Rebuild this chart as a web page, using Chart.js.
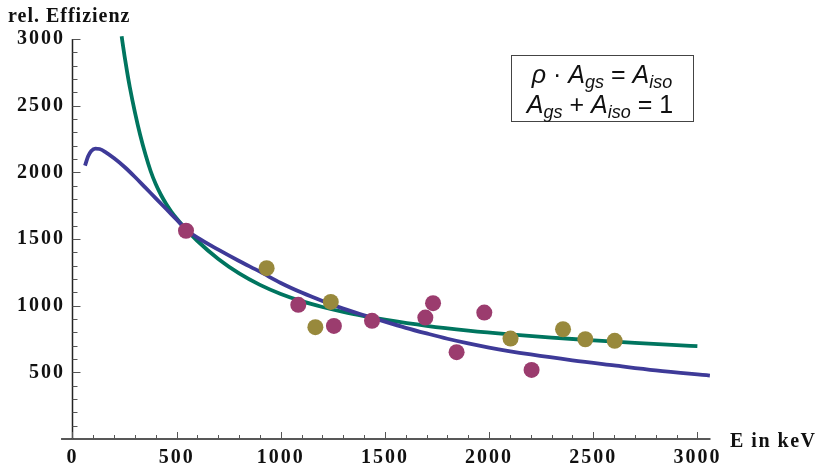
<!DOCTYPE html>
<html>
<head>
<meta charset="utf-8">
<script src="https://cdn.jsdelivr.net/npm/chart.js@4.4.1/dist/chart.umd.min.js"></script>
<style>
  html, body { margin: 0; padding: 0; background: #fff; }
  canvas { display: block; }
</style>
</head>
<body>
<canvas id="chart" width="825" height="467"></canvas>
<script>
/* Relative efficiency vs. energy: two fit curves and two sets of measured points. */

// fit curve, purple-blue
var blueE = [60, 75, 90, 110, 130, 160, 200, 250, 300, 350, 400, 450, 500, 550, 600, 700, 800, 900,
             1000, 1100, 1200, 1300, 1400, 1500, 1600, 1700, 1800, 1900, 2000, 2200, 2400, 2600, 2800, 3060];
var blueY = [2050, 2120, 2160, 2178, 2175, 2150, 2105, 2040, 1965, 1885, 1805, 1725, 1645, 1565, 1510, 1420, 1335, 1255,
             1170, 1098, 1035, 978, 928, 880, 834, 792, 752, 717, 686, 634, 590, 552, 515, 476];

// fit curve, green
var greenE = [236, 240, 250, 262, 275, 300, 325, 350, 375, 400, 425, 450, 475, 500, 525, 550, 600, 700, 800, 900,
              1000, 1100, 1200, 1300, 1400, 1500, 1700, 1900, 2100, 2300, 2500, 2700, 2900, 3000];
var greenY = [3020, 2975, 2870, 2755, 2640, 2448, 2280, 2135, 2010, 1910, 1830, 1762, 1704, 1654, 1608, 1565, 1485,
              1350, 1242, 1156, 1088, 1034, 990, 953, 922, 895, 849, 813, 784, 760, 740, 721, 704, 696];

// measured points
var magentaE = [545, 1084, 1255, 1438, 1694, 1731, 1844, 1977, 2204];
var magentaY = [1562, 1006, 848, 886, 911, 1019, 651, 948, 518];
var oliveE = [932, 1166, 1240, 2103, 2355, 2462, 2603];
var oliveY = [1281, 839, 1028, 753, 823, 748, 736];

var xTicks = [0, 500, 1000, 1500, 2000, 2500, 3000];
var yTicks = [500, 1000, 1500, 2000, 2500, 3000];
var MINOR_STEP = 100;
var X_AXIS_FROM = -55, X_AXIS_TO = 3063;

var COLORS = {
  blue: "rgb(62,58,152)",
  green: "rgb(0,117,95)",
  magenta: "rgb(155,60,110)",
  olive: "rgb(152,137,60)",
  axis: "#222",
  tick: "#555",
  ink: "#111"
};

var SERIF = "'Liberation Serif', 'Times New Roman', serif";
var SANS = "'Liberation Sans', Arial, sans-serif";

function pairs(xs, ys) {
  return xs.map(function (x, i) { return { x: x, y: ys[i] }; });
}

// legend formula, drawn as rich text segments
var formulaLines = [
  [{ t: "\u03C1", it: true }, { t: " \u00B7 " }, { t: "A", it: true }, { t: "gs", it: true, sub: true },
   { t: " = " }, { t: "A", it: true }, { t: "iso", it: true, sub: true }],
  [{ t: "A", it: true }, { t: "gs", it: true, sub: true }, { t: " + " }, { t: "A", it: true },
   { t: "iso", it: true, sub: true }, { t: " = 1" }]
];

function segFont(s) {
  return (s.it ? "italic " : "") + (s.sub ? "18px " : "25px ") + SANS;
}

function drawRich(ctx, segs, cx, baseline) {
  var w = 0;
  segs.forEach(function (s) { ctx.font = segFont(s); w += ctx.measureText(s.t).width; });
  var x = cx - w / 2;
  segs.forEach(function (s) {
    ctx.font = segFont(s);
    ctx.fillText(s.t, x, baseline + (s.sub ? 5 : 0));
    x += ctx.measureText(s.t).width;
  });
}

var decorPlugin = {
  id: "decor",
  beforeDraw: function (chart) {
    chart.ctx.letterSpacing = "2px";
  },
  beforeDatasetsDraw: function (chart) {
    var ctx = chart.ctx, xs = chart.scales.x, ys = chart.scales.y;
    var x0 = xs.getPixelForValue(0), y0 = ys.getPixelForValue(0);
    var yTop = ys.getPixelForValue(yTicks[yTicks.length - 1]);
    ctx.save();
    ctx.strokeStyle = COLORS.axis;
    ctx.lineWidth = 1.5;
    ctx.beginPath();
    ctx.moveTo(xs.getPixelForValue(X_AXIS_FROM), y0);
    ctx.lineTo(xs.getPixelForValue(X_AXIS_TO), y0);
    ctx.moveTo(x0, y0);
    ctx.lineTo(x0, yTop);
    ctx.stroke();

    ctx.strokeStyle = COLORS.tick;
    ctx.lineWidth = 1;
    ctx.beginPath();
    var v, p, major;
    for (v = 0; v <= xTicks[xTicks.length - 1]; v += MINOR_STEP) {
      major = xTicks.indexOf(v) >= 0;
      p = Math.round(xs.getPixelForValue(v)) + 0.5;
      ctx.moveTo(p, y0);
      ctx.lineTo(p, y0 - (major ? 7 : 4));
    }
    for (v = MINOR_STEP; v <= yTicks[yTicks.length - 1]; v += MINOR_STEP) {
      major = yTicks.indexOf(v) >= 0;
      p = Math.round(ys.getPixelForValue(v)) + 0.5;
      ctx.moveTo(x0, p);
      ctx.lineTo(x0 + (major ? 8 : 5), p);
    }
    ctx.stroke();
    ctx.restore();
  },
  afterDraw: function (chart) {
    var ctx = chart.ctx;
    ctx.save();
    ctx.fillStyle = COLORS.ink;
    ctx.textAlign = "left";
    ctx.textBaseline = "alphabetic";
    ctx.font = "bold 20px " + SERIF;
    ctx.letterSpacing = "1px";
    ctx.fillText("rel. Effizienz", 8, 22);
    ctx.letterSpacing = "1.5px";
    ctx.fillText("E in keV", 730, 447);

    // formula box
    ctx.letterSpacing = "0px";
    ctx.strokeStyle = "#444";
    ctx.lineWidth = 1;
    ctx.strokeRect(511.5, 55.5, 182, 66);
    ctx.fillStyle = "#111";
    drawRich(ctx, formulaLines[0], 602, 83);
    drawRich(ctx, formulaLines[1], 600, 113);
    ctx.restore();
  }
};

var tickFont = { family: SERIF, size: 20, weight: "bold" };

new Chart(document.getElementById("chart").getContext("2d"), {
  type: "scatter",
  data: {
    datasets: [
      {
        label: "magenta",
        data: pairs(magentaE, magentaY),
        backgroundColor: COLORS.magenta,
        borderWidth: 0,
        pointRadius: 8,
        pointHoverRadius: 8
      },
      {
        label: "olive",
        data: pairs(oliveE, oliveY),
        backgroundColor: COLORS.olive,
        borderWidth: 0,
        pointRadius: 8,
        pointHoverRadius: 8
      },
      {
        label: "blue fit",
        data: pairs(blueE, blueY),
        showLine: true,
        borderColor: COLORS.blue,
        borderWidth: 3.8,
        pointRadius: 0,
        cubicInterpolationMode: "monotone",
        clip: { left: 0, top: 4, right: 2, bottom: 0 }
      },
      {
        label: "green fit",
        data: pairs(greenE, greenY),
        showLine: true,
        borderColor: COLORS.green,
        borderWidth: 3.8,
        pointRadius: 0,
        cubicInterpolationMode: "monotone",
        clip: { left: 0, top: 4, right: 2, bottom: 0 }
      }
    ]
  },
  options: {
    responsive: false,
    devicePixelRatio: 1,
    animation: false,
    layout: { padding: { left: 0, top: 39, right: 114.5, bottom: 0 } },
    plugins: { legend: { display: false }, tooltip: { enabled: false } },
    scales: {
      x: {
        type: "linear",
        min: -12,
        max: 3063,
        grid: { display: false, drawTicks: false },
        border: { display: false },
        afterBuildTicks: function (s) { s.ticks = xTicks.map(function (v) { return { value: v }; }); },
        afterFit: function (s) { s.height = 28; },
        ticks: {
          color: COLORS.ink,
          font: tickFont,
          padding: 7,
          autoSkip: false,
          maxRotation: 0,
          minRotation: 0,
          callback: function (v) { return String(v); }
        }
      },
      y: {
        type: "linear",
        min: 0,
        max: 3000,
        grid: { display: false, drawTicks: false },
        border: { display: false },
        afterBuildTicks: function (s) { s.ticks = yTicks.map(function (v) { return { value: v }; }); },
        afterFit: function (s) { s.width = 70; },
        ticks: {
          color: COLORS.ink,
          font: tickFont,
          padding: 5,
          autoSkip: false,
          callback: function (v) { return String(v); }
        }
      }
    }
  },
  plugins: [decorPlugin]
});
</script>
</body>
</html>
